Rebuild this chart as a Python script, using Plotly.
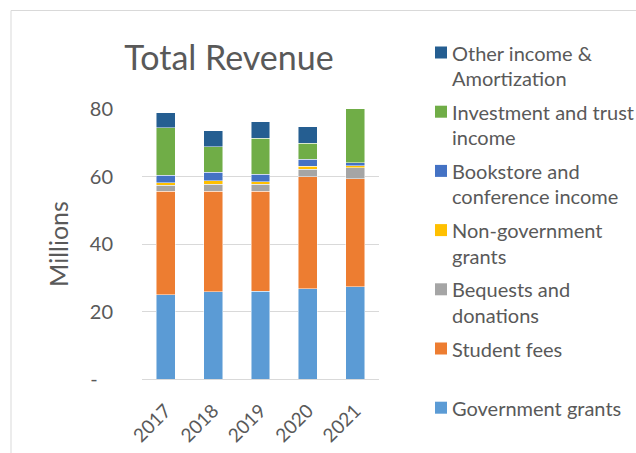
import plotly.graph_objects as go

years = ["2017", "2018", "2019", "2020", "2021"]

government_grants = [25.0, 25.8, 26.0, 26.7, 27.3]
student_fees = [30.6, 29.8, 29.6, 33.3, 32.0]
bequests_donations = [1.8, 2.1, 2.1, 2.2, 3.3]
non_government_grants = [0.8, 1.1, 0.8, 0.8, 0.6]
bookstore_conference = [2.1, 2.4, 2.1, 2.1, 0.9]
investment_trust = [14.1, 7.6, 10.7, 4.7, 16.3]
other_amortization = [4.5, 4.7, 4.9, 5.0, 0.0]

# (legend lines, values, colour) from bottom of stack to top
series = [
    (["Government grants"], government_grants, "#5B9BD5"),
    (["Student fees"], student_fees, "#ED7D31"),
    (["Bequests and", "donations"], bequests_donations, "#A5A5A5"),
    (["Non-government", "grants"], non_government_grants, "#FFC000"),
    (["Bookstore and", "conference income"], bookstore_conference, "#4472C4"),
    (["Investment and trust", "income"], investment_trust, "#70AD47"),
    (["Other income &", "Amortization"], other_amortization, "#255E91"),
]

y_ticks = [0, 20, 40, 60, 80]
y_ticktext = ["-\u00a0\u00a0\u00a0", "20", "40", "60", "80"]

FONT = "Lato"
GREY = "#595959"

W, H = 636, 453
L, R, T, B = 142, 257, 109, 74
pw, ph = W - L - R, H - T - B


def px_x(x):
    return (x - L) / pw


def px_y(y):
    return (H - B - y) / ph


fig = go.Figure()
for lines, vals, color in series:
    fig.add_trace(go.Bar(
        x=years, y=vals, name=" ".join(lines),
        marker=dict(color=color, line=dict(color="rgba(255,255,255,0.6)", width=0.8)),
    ))

# legend drawn as squares + text, top entry = top of stack
shapes = []
annotations = []
entry_top = 52.5
entry_pitch = 59.2
line_pitch = 25.5
for k, (lines, vals, color) in enumerate(reversed(series)):
    yc = entry_top + k * entry_pitch
    shapes.append(dict(
        type="rect", xref="paper", yref="paper",
        x0=px_x(435), x1=px_x(447), y0=px_y(yc + 6), y1=px_y(yc - 6),
        fillcolor=color, line=dict(width=0),
    ))
    for j, txt in enumerate(lines):
        annotations.append(dict(
            xref="paper", yref="paper", x=px_x(450), y=px_y(yc + j * line_pitch),
            xanchor="left", yanchor="middle", text=txt, showarrow=False,
            font=dict(family=FONT, size=20, color=GREY),
        ))

shapes.append(dict(
    type="rect", xref="paper", yref="paper",
    x0=px_x(11), x1=px_x(W + 10), y0=px_y(H + 10), y1=px_y(10.5),
    line=dict(color="#D9D9D9", width=1), fillcolor="rgba(0,0,0,0)", layer="below",
))

fig.update_layout(
    width=W, height=H,
    margin=dict(l=L, r=R, t=T, b=B, autoexpand=False),
    barmode="stack",
    bargap=0.6,
    showlegend=False,
    plot_bgcolor="white",
    paper_bgcolor="white",
    font=dict(family=FONT, color=GREY, size=17),
    title=dict(text="Total Revenue", x=229 / W, xanchor="center",
               y=1 - 58 / H, yanchor="middle",
               font=dict(family=FONT, size=34, color=GREY)),
    xaxis=dict(
        tickangle=-45, showgrid=False, showline=False, ticks="",
        ticklabelstandoff=16, automargin=False,
        tickfont=dict(size=19, color=GREY, family=FONT),
    ),
    yaxis=dict(
        range=[0, 80], tickvals=y_ticks, ticktext=y_ticktext,
        showgrid=True, gridcolor="#D9D9D9", gridwidth=1,
        zeroline=True, zerolinecolor="#D9D9D9", zerolinewidth=1,
        showline=False, ticks="", ticklabelstandoff=28, automargin=False,
        tickfont=dict(size=20, color=GREY, family=FONT),
        title=dict(text="Millions", font=dict(size=25, color=GREY, family=FONT), standoff=14),
    ),
    shapes=shapes,
    annotations=annotations,
)

fig.write_html("out.html", config={"displayModeBar": False},
               post_script="document.body.style.margin='0px';")
